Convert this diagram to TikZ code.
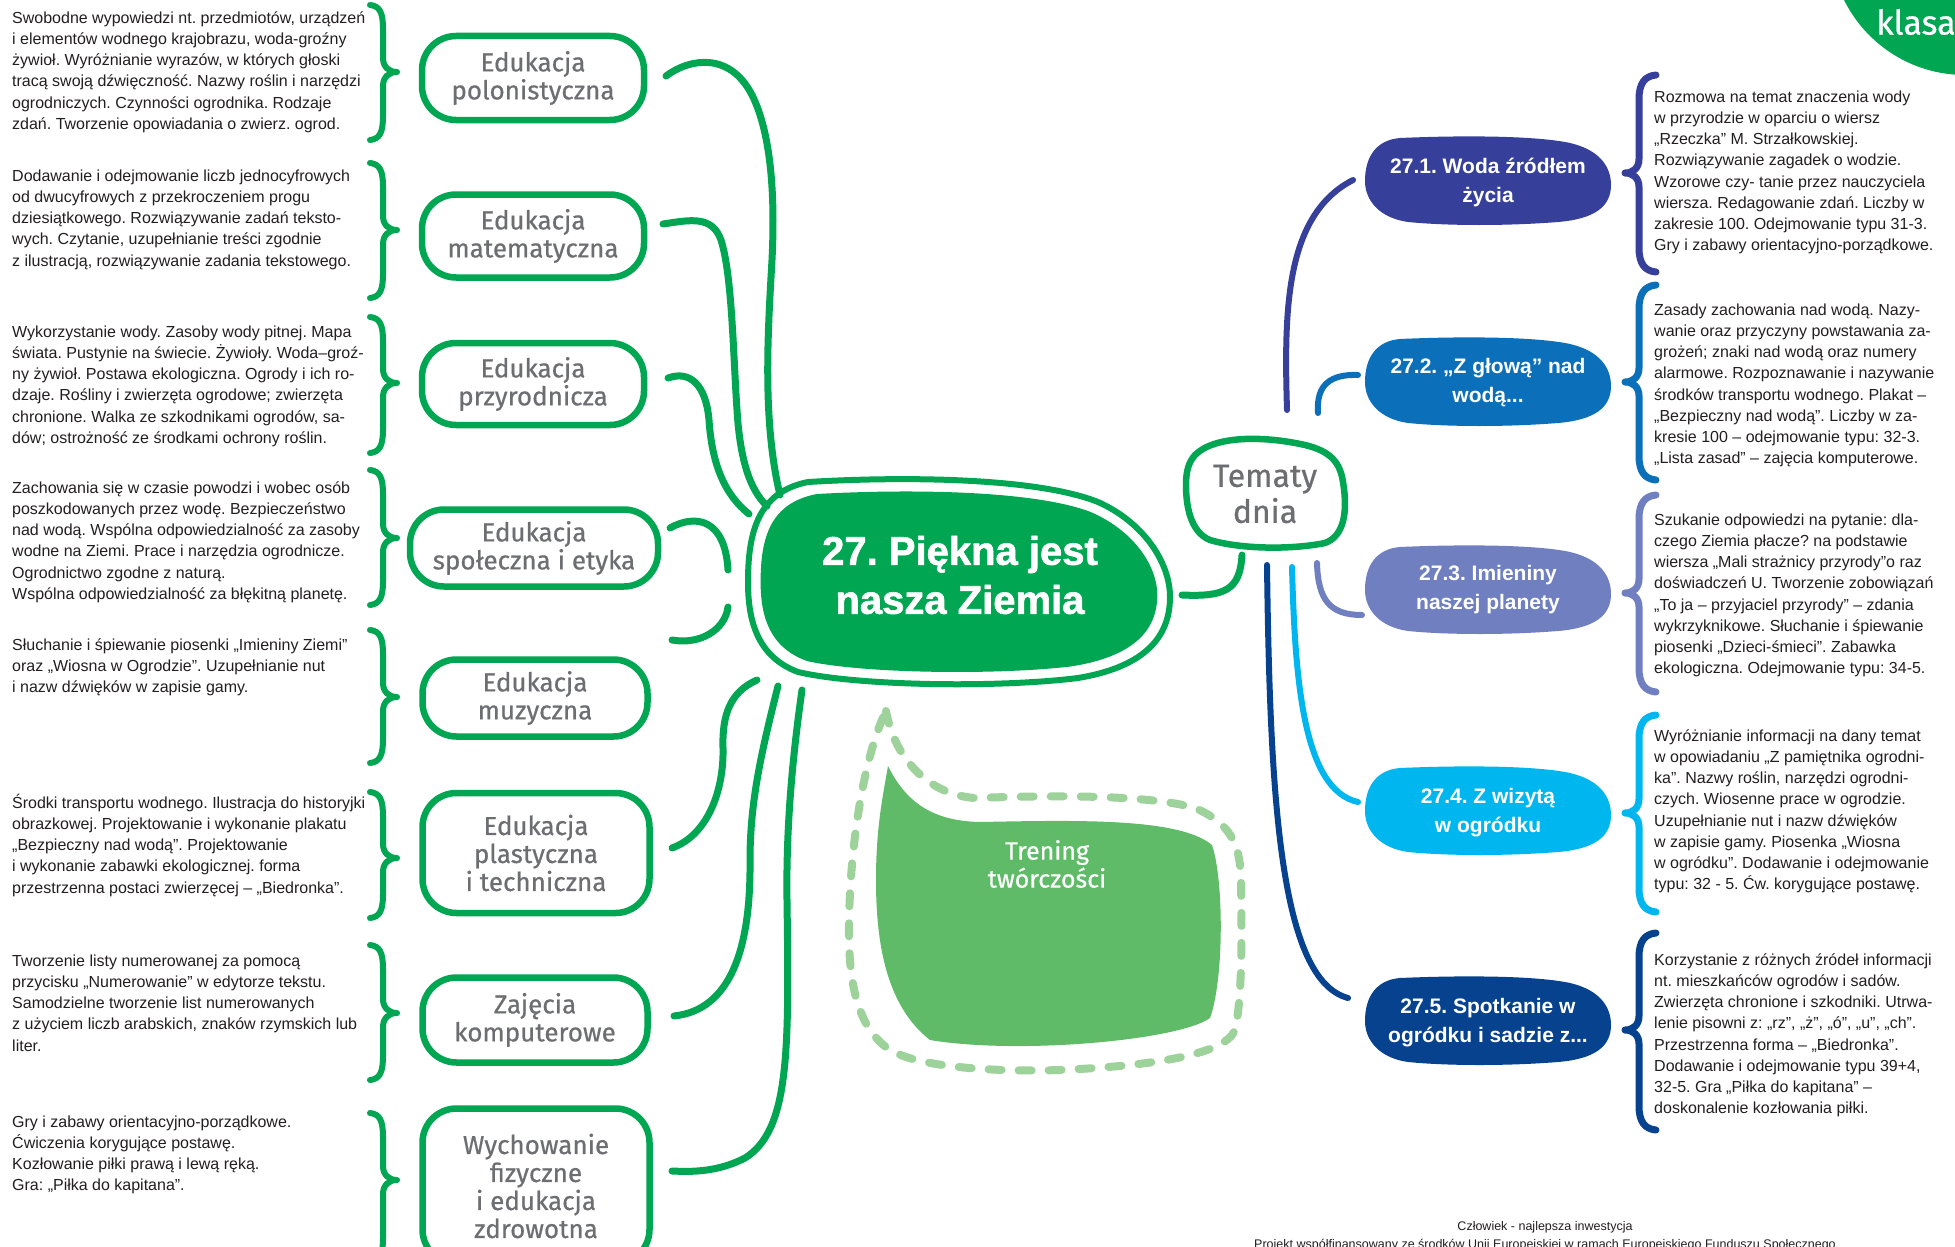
\documentclass[tikz,border=0pt]{standalone}
\usepackage{fontspec}
\setmainfont{Liberation Sans}
\newfontfamily\handfont[FakeBold=0.6]{Fira Sans}
\newfontfamily\heavyfont[BoldFeatures={FakeBold=1.5}]{Liberation Sans}
\definecolor{gr}{HTML}{00A651}
\definecolor{grl}{HTML}{60BB69}
\definecolor{grd}{HTML}{9DD39B}
\definecolor{tcA}{HTML}{36409A}
\definecolor{tcB}{HTML}{0B6FB9}
\definecolor{tcC}{HTML}{6F7FBF}
\definecolor{tcD}{HTML}{00B6EF}
\definecolor{tcE}{HTML}{06428D}
\definecolor{grayt}{HTML}{6D6E71}
\definecolor{bodyt}{HTML}{231F20}
\newcommand\firstl{\rule{0pt}{15pt}}
\newcommand\mybrL[3]{\draw[gbrace] (370,#1) .. controls (380,#1+1) and (383,#1+8) .. (383,#1+24) -- (383,#2-14) .. controls (383,#2-5) and (389,#2) .. (397,#2) .. controls (389,#2) and (383,#2+5) .. (383,#2+14) -- (383,#3-24) .. controls (383,#3-8) and (380,#3-1) .. (370,#3);}
\newcommand\mybrR[4]{\draw[bbrace, draw=#4] (1656,#1) .. controls (1645,#1+1) and (1639,#1+8) .. (1639,#1+24) -- (1639,#2-14) .. controls (1639,#2-5) and (1633,#2) .. (1625,#2) .. controls (1633,#2) and (1639,#2+5) .. (1639,#2+14) -- (1639,#3-24) .. controls (1639,#3-8) and (1645,#3-1) .. (1656,#3);}
\newcommand\topicblob[3]{\fill[#3, shift={(#1,#2)}] (-88,-43) .. controls (-20,-46) and (50,-45) .. (82,-38) .. controls (112,-31) and (123,-14) .. (123,4) .. controls (123,26) and (106,38) .. (70,41) .. controls (20,45) and (-40,45) .. (-80,41) .. controls (-108,37) and (-123,20) .. (-123,0) .. controls (-123,-24) and (-112,-41) .. (-88,-43) -- cycle;}
\newcommand\centralblob[1]{\path[#1] (-150,-100) .. controls (-50,-106) and (80,-104) .. (140,-80) .. controls (185,-60) and (212,-20) .. (212,15) .. controls (212,60) and (180,86) .. (120,96) .. controls (40,106) and (-100,104) .. (-160,90) .. controls (-200,75) and (-210,40) .. (-210,0) .. controls (-210,-50) and (-200,-90) .. (-150,-100) -- cycle;}
\begin{document}
\frenchspacing
\begin{tikzpicture}[x=1pt,y=-1pt, line join=round,
  conn/.style={draw=gr, line width=7pt, line cap=round},
  bconn/.style={line width=6pt, line cap=round},
  gbrace/.style={draw=gr, line width=6pt, line cap=round},
  bbrace/.style={line width=7pt, line cap=round},
  subj/.style={draw=gr, line width=6.5pt, rounded corners=34pt, fill=white, align=center, inner sep=0pt, text=grayt, font=\handfont\fontsize{26}{28}\selectfont},
  body/.style={anchor=north west, inner sep=0pt, align=left, text=bodyt, font=\fontsize{16}{21.2}\selectfont},
  topic/.style={align=center, text=white, inner sep=0pt, font=\bfseries\fontsize{21}{29}\selectfont}]
\useasboundingbox (0,0) rectangle (1955,1247);
\clip (0,0) rectangle (1955,1247);
\fill[white] (0,0) rectangle (1955,1247);

% klasa circle
\fill[gr] (1965,-60) circle[radius=135];
\node[anchor=west, text=white, inner sep=0pt, font=\handfont\fontsize{34}{34}\selectfont] (klasa) at (1876,22) {klasa};

% ---------- left text blocks ----------
\node[body] (tL1) at (12,8) {\firstl Swobodne wypowiedzi nt. przedmiotów, urządzeń\\i elementów wodnego krajobrazu, woda-groźny\\żywioł. Wyróżnianie wyrazów, w których głoski\\tracą swoją dźwięczność. Nazwy roślin i narzędzi\\ogrodniczych. Czynności ogrodnika. Rodzaje\\zdań. Tworzenie opowiadania o zwierz. ogrod.};
\node[body] (tL2) at (12,166) {\firstl Dodawanie i odejmowanie liczb jednocyfrowych\\od dwucyfrowych z przekroczeniem progu\\dziesiątkowego. Rozwiązywanie zadań teksto-\\wych. Czytanie, uzupełnianie treści zgodnie\\z ilustracją, rozwiązywanie zadania tekstowego.};
\node[body] (tL3) at (12,322) {\firstl Wykorzystanie wody. Zasoby wody pitnej. Mapa\\świata. Pustynie na świecie. Żywioły. Woda–groź-\\ny żywioł. Postawa ekologiczna. Ogrody i ich ro-\\dzaje. Rośliny i zwierzęta ogrodowe; zwierzęta\\chronione. Walka ze szkodnikami ogrodów, sa-\\dów; ostrożność ze środkami ochrony roślin.};
\node[body] (tL4) at (12,478) {\firstl Zachowania się w czasie powodzi i wobec osób\\poszkodowanych przez wodę. Bezpieczeństwo\\nad wodą. Wspólna odpowiedzialność za zasoby\\wodne na Ziemi. Prace i narzędzia ogrodnicze.\\Ogrodnictwo zgodne z naturą.\\Wspólna odpowiedzialność za błękitną planetę.};
\node[body] (tL5) at (12,635) {\firstl Słuchanie i śpiewanie piosenki „Imieniny Ziemi"\\oraz „Wiosna w Ogrodzie". Uzupełnianie nut\\i nazw dźwięków w zapisie gamy.};
\node[body] (tL6) at (12,793) {\firstl Środki transportu wodnego. Ilustracja do historyjki\\obrazkowej. Projektowanie i wykonanie plakatu\\„Bezpieczny nad wodą". Projektowanie\\i wykonanie zabawki ekologicznej. forma\\przestrzenna postaci zwierzęcej – „Biedronka".};
\node[body] (tL7) at (12,951) {\firstl Tworzenie listy numerowanej za pomocą\\przycisku „Numerowanie" w edytorze tekstu.\\Samodzielne tworzenie list numerowanych\\z użyciem liczb arabskich, znaków rzymskich lub\\liter.};
\node[body] (tL8) at (12,1112) {\firstl Gry i zabawy orientacyjno-porządkowe.\\Ćwiczenia korygujące postawę.\\Kozłowanie piłki prawą i lewą ręką.\\Gra: „Piłka do kapitana".};

% left braces
\mybrL{5}{72}{140}
\mybrL{163}{230}{298}
\mybrL{317}{383}{453}
\mybrL{470}{538}{605}
\mybrL{630}{697}{763}
\mybrL{792}{858}{918}
\mybrL{945}{1013}{1080}
\mybrL{1113}{1180}{1262}

% ---------- subject boxes ----------
\node[subj, minimum width=222pt, minimum height=84pt] (pol) at (533,78) {Edukacja\\polonistyczna};
\node[subj, minimum width=222pt, minimum height=83pt] (mat) at (533,236) {Edukacja\\matematyczna};
\node[subj, minimum width=222pt, minimum height=82pt] (prz) at (533,384) {Edukacja\\przyrodnicza};
\node[subj, minimum width=248pt, minimum height=77pt] (spo) at (534,548) {Edukacja\\społeczna i etyka};
\node[subj, minimum width=225pt, minimum height=77pt] (muz) at (535,698) {Edukacja\\muzyczna};
\node[subj, minimum width=227pt, minimum height=120pt] (pla) at (536,853) {Edukacja\\plastyczna\\i techniczna};
\node[subj, minimum width=225pt, minimum height=85pt] (kom) at (535,1020) {Zajęcia\\komputerowe};
\node[subj, minimum width=227pt, minimum height=155pt] (wf) at (536,1186) {Wychowanie\\fizyczne\\i edukacja\\zdrowotna};

% ---------- central node ----------
\centralblob{draw=gr, line width=6pt, fill=white, shift={(958,582)}}
\centralblob{fill=gr, shift={(958,582)}, xscale=0.94, yscale=0.88}
\node[align=center, text=white, inner sep=0pt, font=\heavyfont\bfseries\fontsize{40}{49}\selectfont] (main) at (960,575) {27. Piękna jest\\nasza Ziemia};

% ---------- green connectors ----------
\coordinate (a1) at (666,76);   \coordinate (b1) at (780,495);
\coordinate (a2) at (663,224);  \coordinate (b2) at (767,506);
\coordinate (a3) at (668,378);  \coordinate (b3) at (749,514);
\coordinate (a4) at (670,528);  \coordinate (b4) at (728,570);
\coordinate (a5) at (672,640);  \coordinate (b5) at (728,607);
\coordinate (a6) at (672,848);  \coordinate (b6) at (757,680);
\coordinate (a7) at (674,1016); \coordinate (b7) at (778,686);
\coordinate (a8) at (672,1171); \coordinate (b8) at (802,690);
\draw[conn] (a1) .. controls (690,58) and (730,52) .. (752,95) .. controls (772,135) and (775,200) .. (772,260) .. controls (768,330) and (762,420) .. (b1);
\draw[conn] (a2) .. controls (690,220) and (712,215) .. (721,240) .. controls (732,275) and (733,350) .. (737,410) .. controls (740,460) and (750,490) .. (b2);
\draw[conn] (a3) .. controls (690,370) and (706,385) .. (709,420) .. controls (712,465) and (725,495) .. (b3);
\draw[conn] (a4) .. controls (695,514) and (725,518) .. (b4);
\draw[conn] (b5) .. controls (725,630) and (700,645) .. (a5);
\draw[conn] (b6) .. controls (730,692) and (722,715) .. (723,748) .. controls (724,790) and (708,835) .. (a6);
\draw[conn] (b7) .. controls (762,750) and (750,800) .. (750,860) .. controls (751,950) and (730,1010) .. (a7);
\draw[conn] (b8) .. controls (792,760) and (786,830) .. (787,900) .. controls (789,1050) and (790,1130) .. (745,1158) .. controls (718,1172) and (692,1172) .. (a8);

% ---------- Trening tworczosci ----------
\fill[grl] (888,766) .. controls (905,800) and (930,821) .. (980,822) .. controls (1080,820) and (1180,818) .. (1212,845) .. controls (1224,880) and (1224,980) .. (1210,1018) .. controls (1180,1040) and (1020,1055) .. (930,1040) .. controls (885,1005) and (876,940) .. (876,880) .. controls (876,830) and (882,800) .. (888,766) -- cycle;
\draw[grd, line width=8pt, line cap=round, dash pattern=on 13pt off 17pt] (886,711) .. controls (895,760) and (930,795) .. (975,798) .. controls (1060,795) and (1150,795) .. (1195,808) .. controls (1235,825) and (1240,850) .. (1241,880) .. controls (1242,940) and (1242,1000) .. (1235,1030) .. controls (1225,1055) and (1150,1066) .. (1060,1070) .. controls (1000,1072) and (920,1068) .. (890,1050) .. controls (860,1030) and (850,990) .. (849,940) .. controls (848,860) and (862,760) .. (886,711);
\node[align=center, text=white, inner sep=0pt, font=\handfont\fontsize{25}{28}\selectfont] (tren) at (1047,864) {Trening\\twórczości};

% ---------- Tematy dnia ----------
\draw[gr, line width=6.5pt, fill=white] (1195,455) .. controls (1215,435) and (1265,436) .. (1305,445) .. controls (1330,451) and (1340,462) .. (1343,482) .. controls (1348,512) and (1344,536) .. (1325,543) .. controls (1290,550) and (1240,549) .. (1210,540) .. controls (1190,532) and (1186,505) .. (1186,485) .. controls (1186,470) and (1189,462) .. (1195,455) -- cycle;
\node[align=center, text=grayt, inner sep=0pt, font=\handfont\fontsize{32}{36}\selectfont] (tem) at (1265,494) {Tematy\\dnia};
\coordinate (tm0) at (1242,555); \coordinate (mc0) at (1182,595);
\draw[conn] (tm0) .. controls (1240,590) and (1225,597) .. (mc0);

% ---------- blue connectors ----------
\coordinate (s1) at (1287,410); \coordinate (e1) at (1353,180);
\coordinate (s2) at (1318,413); \coordinate (e2) at (1358,375);
\coordinate (s3) at (1317,563); \coordinate (e3) at (1362,615);
\coordinate (s4) at (1292,567); \coordinate (e4) at (1358,802);
\coordinate (s5) at (1267,565); \coordinate (e5) at (1348,998);
\draw[bconn, draw=tcA] (s1) .. controls (1284,310) and (1285,215) .. (e1);
\draw[bconn, draw=tcB] (s2) .. controls (1316,385) and (1330,374) .. (e2);
\draw[bconn, draw=tcC] (s3) .. controls (1318,600) and (1330,615) .. (e3);
\draw[bconn, draw=tcD] (s4) .. controls (1295,680) and (1303,790) .. (e4);
\draw[bconn, draw=tcE] (s5) .. controls (1270,800) and (1280,980) .. (e5);

% ---------- topic boxes ----------
\topicblob{1488}{181}{tcA}
\node[topic] (t1) at (1488,182) {27.1. Woda źródłem\\życia};
\topicblob{1488}{382}{tcB}
\node[topic] (t2) at (1488,383) {27.2. „Z głową” nad\\wodą...};
\topicblob{1488}{590}{tcC}
\node[topic] (t3) at (1488,590) {27.3. Imieniny\\naszej planety};
\topicblob{1488}{811}{tcD}
\node[topic] (t4) at (1488,813) {27.4. Z wizytą\\w ogródku};
\topicblob{1488}{1021}{tcE}
\node[topic] (t5) at (1488,1023) {27.5. Spotkanie w\\ogródku i sadzie z...};

% right braces
\mybrR{75}{173}{272}{tcA}
\mybrR{285}{382}{480}{tcB}
\mybrR{495}{593}{692}{tcC}
\mybrR{715}{813}{912}{tcD}
\mybrR{933}{1030}{1130}{tcE}

% ---------- right text blocks ----------
\node[body] (tR1) at (1654,87) {\firstl Rozmowa na temat znaczenia wody\\w przyrodzie w oparciu o wiersz\\„Rzeczka” M. Strzałkowskiej.\\Rozwiązywanie zagadek o wodzie.\\Wzorowe czy- tanie przez nauczyciela\\wiersza. Redagowanie zdań. Liczby w\\zakresie 100. Odejmowanie typu 31-3.\\Gry i zabawy orientacyjno-porządkowe.};
\node[body] (tR2) at (1654,300) {\firstl Zasady zachowania nad wodą. Nazy-\\wanie oraz przyczyny powstawania za-\\grożeń; znaki nad wodą oraz numery\\alarmowe. Rozpoznawanie i nazywanie\\środków transportu wodnego. Plakat –\\„Bezpieczny nad wodą". Liczby w za-\\kresie 100 – odejmowanie typu: 32-3.\\„Lista zasad” – zajęcia komputerowe.};
\node[body] (tR3) at (1654,510) {\firstl Szukanie odpowiedzi na pytanie: dla-\\czego Ziemia płacze? na podstawie\\wiersza „Mali strażnicy przyrody”o raz\\doświadczeń U. Tworzenie zobowiązań\\„To ja – przyjaciel przyrody” – zdania\\wykrzyknikowe. Słuchanie i śpiewanie\\piosenki „Dzieci-śmieci”. Zabawka\\ekologiczna. Odejmowanie typu: 34-5.};
\node[body] (tR4) at (1654,726) {\firstl Wyróżnianie informacji na dany temat\\w opowiadaniu „Z pamiętnika ogrodni-\\ka”. Nazwy roślin, narzędzi ogrodni-\\czych. Wiosenne prace w ogrodzie.\\Uzupełnianie nut i nazw dźwięków\\w zapisie gamy. Piosenka „Wiosna\\w ogródku”. Dodawanie i odejmowanie\\typu: 32 - 5. Ćw. korygujące postawę.};
\node[body] (tR5) at (1654,950) {\firstl Korzystanie z różnych źródeł informacji\\nt. mieszkańców ogrodów i sadów.\\Zwierzęta chronione i szkodniki. Utrwa-\\lenie pisowni z: „rz”, „ż”, „ó”, „u”, „ch”.\\Przestrzenna forma – „Biedronka".\\Dodawanie i odejmowanie typu 39+4,\\32-5. Gra „Piłka do kapitana” –\\doskonalenie kozłowania piłki.};

% ---------- footer ----------
\node[anchor=base, inner sep=0pt, text=bodyt, font=\fontsize{12.5}{15}\selectfont] (f1) at (1545,1230) {Człowiek - najlepsza inwestycja};
\node[anchor=base, inner sep=0pt, text=bodyt, font=\fontsize{12.5}{15}\selectfont] (f2) at (1545,1248) {Projekt współfinansowany ze środków Unii Europejskiej w ramach Europejskiego Funduszu Społecznego};
\end{tikzpicture}
\end{document}
